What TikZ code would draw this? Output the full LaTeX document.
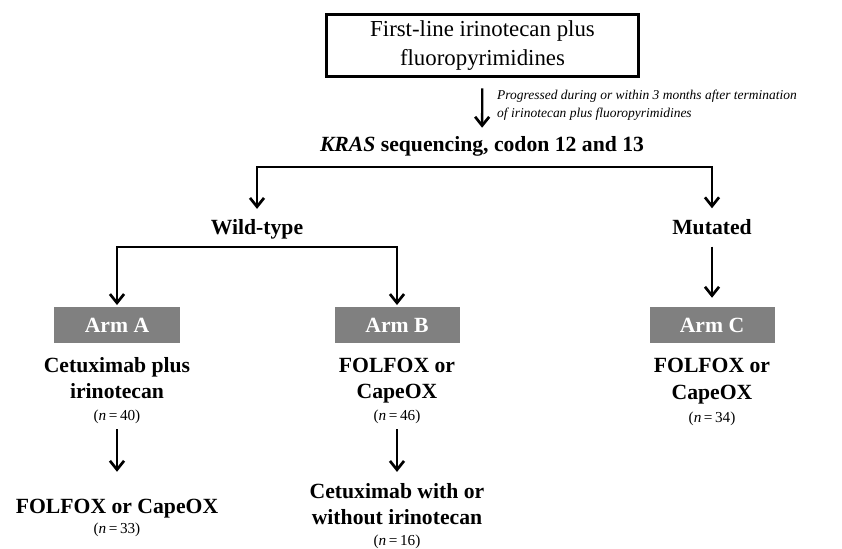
\documentclass[tikz,border=0pt]{standalone}
\usepackage{fontspec}
\setmainfont{Liberation Serif}
\usepackage{xcolor}
\usetikzlibrary{arrows.meta}
\definecolor{armgray}{RGB}{128,128,128}
\tikzset{
  fcbox/.style={draw=black, line width=2.4pt, minimum width=9.36cm, minimum height=1.86cm, align=center, inner sep=0pt, font=\fontsize{19.5}{24.7}\selectfont},
  fcarm/.style={fill=armgray, text=white, minimum width=3.75cm, minimum height=1.08cm, inner sep=0pt, font=\bfseries\fontsize{18.5}{23}\selectfont},
  fclbl/.style={align=center, inner sep=0pt, font=\bfseries\fontsize{18.5}{23}\selectfont},
  fcnum/.style={inner sep=0pt, anchor=base, font=\fontsize{13}{15}\selectfont},
  fcnote/.style={align=left, inner sep=0pt, anchor=west, font=\itshape\fontsize{11.5}{15.4}\selectfont},
  fcline/.style={line width=2pt, draw=black},
  fcarr/.style={fcline, -{Straight Barb[length=7.5pt,width=12pt,line width=2.3pt]}},
}
\begin{document}
\begin{tikzpicture}[x=0.03cm,y=-0.03cm]
\useasboundingbox (0,0) rectangle (842,548);
% top
\node[fcbox] (first) at (482.5,45.5) {First-line irinotecan plus\\fluoropyrimidines};
\node[fclbl] (kras) at (482,146.6) {\textit{KRAS} sequencing, codon 12 and 13\strut};
\node[fcnote] (prog) at (497,105) {Progressed during or within 3 months after termination\\of irinotecan plus fluoropyrimidines};
\draw[fcarr, shorten <=9pt, shorten >=4.4pt] (first) -- (kras);
% kras split
\node[fclbl] (wt) at (257,229.6) {Wild-type\strut};
\node[fclbl] (mut) at (712,229) {Mutated\strut};
\coordinate (kbar) at (482,167);
\draw[fcarr, shorten >=6pt] (kbar) -| (wt);
\draw[fcarr, shorten >=6pt] (kbar) -| (mut);
% arms
\node[fcarm] (armA) at (117,325) {Arm A};
\node[fcarm] (armB) at (397,325) {Arm B};
\node[fcarm] (armC) at (712,325) {Arm C};
\coordinate (wtbar) at (257,247);
\draw[fcarr, shorten >=1.5pt] (wtbar) -| (armA);
\draw[fcarr, shorten >=1.5pt] (wtbar) -| (armB);
\draw[fcarr, shorten <=3.3pt, shorten >=7.7pt] (mut) -- (armC);
% first treatment
\node[fclbl] (trA) at (117,380.1) {Cetuximab plus\strut\\irinotecan\strut};
\node[fclbl] (trB) at (397,380.1) {FOLFOX or\strut\\CapeOX\strut};
\node[fclbl] (trC) at (712,381) {FOLFOX or\strut\\CapeOX\strut};
\node[fcnum] (nA) at (117,420) {(\textit{n}\,=\,40)};
\node[fcnum] (nB) at (397,420) {(\textit{n}\,=\,46)};
\node[fcnum] (nC) at (712,422) {(\textit{n}\,=\,34)};
% second line
\node[fclbl] (secA) at (117,507.6) {FOLFOX or CapeOX\strut};
\node[fclbl] (secB) at (397,506.1) {Cetuximab with or\strut\\without irinotecan\strut};
\node[fcnum] (nA2) at (117,533) {(\textit{n}\,=\,33)};
\node[fcnum] (nB2) at (397,545) {(\textit{n}\,=\,16)};
\draw[fcarr, shorten <=5pt, shorten >=18.9pt] (nA) -- (secA);
\draw[fcarr, shorten <=5pt, shorten >=6pt] (nB) -- (secB);
\end{tikzpicture}
\end{document}
